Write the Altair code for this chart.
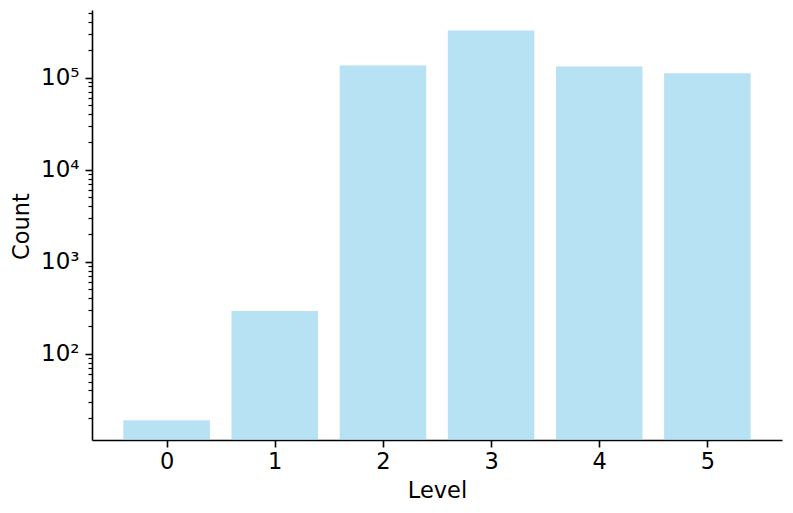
import altair as alt
import pandas as pd

# ---- data ----
levels = [0, 1, 2, 3, 4, 5]
counts = [19, 291, 135000, 324000, 132000, 111000]

y_domain = [11.6, 541000]
x_domain = [-0.69, 5.69]
bar_width = 0.8

y_tick_values = (
    [20, 30, 40, 50, 60, 70, 80, 90]
    + [100, 200, 300, 400, 500, 600, 700, 800, 900]
    + [1000, 2000, 3000, 4000, 5000, 6000, 7000, 8000, 9000]
    + [10000, 20000, 30000, 40000, 50000, 60000, 70000, 80000, 90000]
    + [100000, 200000, 300000, 400000, 500000]
)

df = pd.DataFrame({"level": levels, "count": counts})
df["x0"] = df["level"] - bar_width / 2
df["x1"] = df["level"] + bar_width / 2

FONT = "DejaVu Sans"
LOG = "log(datum.value)/LN10"
MAJOR = f"abs({LOG} - round({LOG})) < 1e-6"
SUP = "['\u2070','\u00b9','\u00b2','\u00b3','\u2074','\u2075','\u2076']"

y_axis = alt.Axis(
    values=y_tick_values,
    title="Count",
    labelExpr=f"{MAJOR} ? '10' + {SUP}[round({LOG})] : ''",
    labelOverlap=False,
    grid=False,
    tickSize={"condition": {"test": MAJOR, "value": 7}, "value": 4},
    tickWidth={"condition": {"test": MAJOR, "value": 1.6}, "value": 1.2},
    labelPadding=6,
    labelFontSize=23,
    titleAngle=-90,
    titleX=-64,
    titleY=216,
    titleAlign="center",
    titleBaseline="alphabetic",
)

x_axis = alt.Axis(
    values=levels,
    title="Level",
    format="d",
    grid=False,
    tickSize=7,
    tickWidth=1.6,
    labelPadding=3,
    labelFlush=False,
    labelOverlap=False,
    titleX=345,
    titleY=57,
    titleAlign="center",
    titleBaseline="alphabetic",
)

chart = (
    alt.Chart(df)
    .mark_bar(color="#87CEEB", opacity=0.6)
    .encode(
        x=alt.X("x0:Q", scale=alt.Scale(domain=x_domain, nice=False, zero=False), axis=x_axis),
        x2="x1:Q",
        y=alt.Y("count:Q", scale=alt.Scale(type="log", domain=y_domain, nice=False), axis=y_axis),
        y2=alt.datum(y_domain[0]),
    )
    .properties(
        width=690,
        height=430,
        autosize=alt.AutoSizeParams(type="none"),
        padding={"left": 84, "top": 2, "right": 3, "bottom": 65},
    )
    .configure_view(stroke=None)
    .configure_axis(
        domainColor="black",
        domainWidth=1.6,
        tickColor="black",
        labelColor="black",
        titleColor="black",
        labelFont=FONT,
        titleFont=FONT,
        labelFontSize=22.5,
        titleFontSize=22.5,
        titleFontWeight="normal",
    )
)

chart.save("out.html", embed_options={"renderer": "svg", "actions": False})
